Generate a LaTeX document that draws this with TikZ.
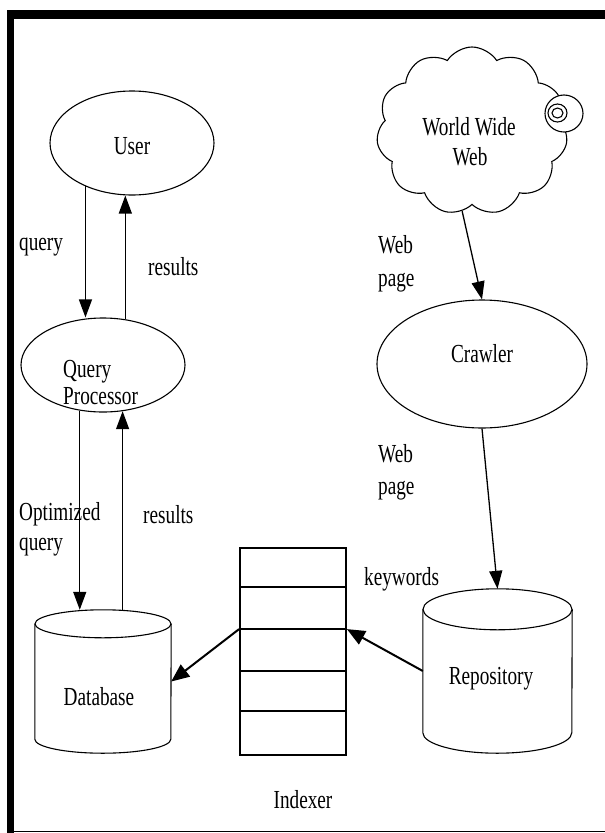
\documentclass[tikz,border=0pt]{standalone}
\usepackage{fontspec}
\setmainfont[FakeStretch=0.74]{Liberation Serif}
\usetikzlibrary{shapes.geometric,shapes.symbols,arrows.meta}
\begin{document}
\begin{tikzpicture}[x=1pt,y=-1pt,
  every node/.style={font=\fontsize{26}{30}\selectfont},
  ell/.style={draw,ellipse,line width=1.1pt,inner sep=0pt},
  arr/.style={line width=1.3pt,-{Triangle[length=18pt,width=13pt]}},
  thickarr/.style={line width=2pt,-{Triangle[length=18pt,width=15pt]}},
  lbl/.style={anchor=base west,inner sep=0pt},
  ctr/.style={anchor=base,inner sep=0pt},
  holder/.style={rectangle,inner sep=0pt},
  cyl/.style={line width=1.1pt},
  ]
\useasboundingbox (0,0) rectangle (605,833);
% frame
\fill (7,10) rectangle (605,19);
\fill (7,10) rectangle (14,833);
\draw[line width=1pt] (7,831) -- (605,831);

% nodes
\node[ell,minimum width=164pt,minimum height=104pt] (user) at (132,143) {};
\node[ell,minimum width=164pt,minimum height=94pt] (qp) at (103,365) {};
\node[ell,minimum width=210pt,minimum height=128pt] (crawler) at (482,364) {};
\node[cloud,draw,line width=1.1pt,cloud puffs=11,cloud puff arc=115,aspect=1.15,
      minimum width=191pt,minimum height=168pt,inner sep=0pt] (www) at (472,131) {};
\draw[line width=1.1pt,fill=white] (564,113.5) ellipse (19pt and 18.5pt);
\draw[line width=1.1pt] (557.5,113) ellipse (9.5pt and 9pt);
\draw[line width=1.1pt] (557.5,113) ellipse (5.5pt and 5pt);

% database cylinder
\node[holder,minimum width=136pt,minimum height=143pt] (db) at (103,681.5) {};
\draw[cyl] ([yshift=-14pt]db.north) ellipse (68pt and 14pt);
\draw[cyl] ([yshift=-14pt]db.north west) -- ([yshift=14pt]db.south west)
           arc (180:360:68pt and 14pt) -- ([yshift=-14pt]db.north east);
% repository cylinder
\node[holder,minimum width=149pt,minimum height=164pt] (repo) at (497.5,671) {};
\draw[cyl] ([yshift=-20.5pt]repo.north) ellipse (74.5pt and 20.5pt);
\draw[cyl] ([yshift=-20.5pt]repo.north west) -- ([yshift=20.5pt]repo.south west)
           arc (180:360:74.5pt and 20.5pt) -- ([yshift=-20.5pt]repo.north east);

% indexer
\node[draw,line width=1.8pt,minimum width=106pt,minimum height=207pt,inner sep=0pt] (idx) at (293,651.5) {};
\foreach \d in {40,82,124,164}
  \draw[line width=1.8pt] ([yshift=-\d pt]idx.north west) -- ([yshift=-\d pt]idx.north east);

% texts
\node[ctr] (usert) at (132,154) {User};
\node[lbl] (qpt1) at (63,377) {Query};
\node[lbl] (qpt2) at (63,404) {Processor};
\node[ctr] (wwwt1) at (469,135) {World Wide};
\node[ctr] (wwwt2) at (470,165) {Web};
\node[ctr] (crt) at (482,362) {Crawler};
\node[ctr] (dbt) at (99,705) {Database};
\node[ctr] (rpt) at (491,684) {Repository};
\node[ctr] (idxt) at (303,808) {Indexer};

% labels
\node[lbl] (l1) at (19,250) {query};
\node[lbl] (l2) at (148,275) {results};
\node[lbl] (l3) at (19,520) {Optimized};
\node[lbl] (l4) at (19,550) {query};
\node[lbl] (l5) at (143,523) {results};
\node[lbl] (l6) at (378,253) {Web};
\node[lbl] (l7) at (378,286) {page};
\node[lbl] (l8) at (378,462) {Web};
\node[lbl] (l9) at (378,494) {page};
\node[lbl] (l10) at (364,585) {keywords};

% connectors
\draw[arr] (user.223) -- (user.223 |- qp.north);
\draw[arr] (qp.64) -- (qp.64 |- user.south);
\draw[arr] (qp.243) -- (qp.243 |- db.north);
\draw[arr] (qp.293 |- db.north) -- (qp.293);
\draw[arr] (www.263) -- (crawler.north);
\draw[arr] (crawler.south) -- (repo.north);
\draw[thickarr] (repo.west) -- ([yshift=-82pt]idx.north east);
\draw[thickarr] ([yshift=-82pt]idx.north west) -- (db.east);
\end{tikzpicture}
\end{document}
